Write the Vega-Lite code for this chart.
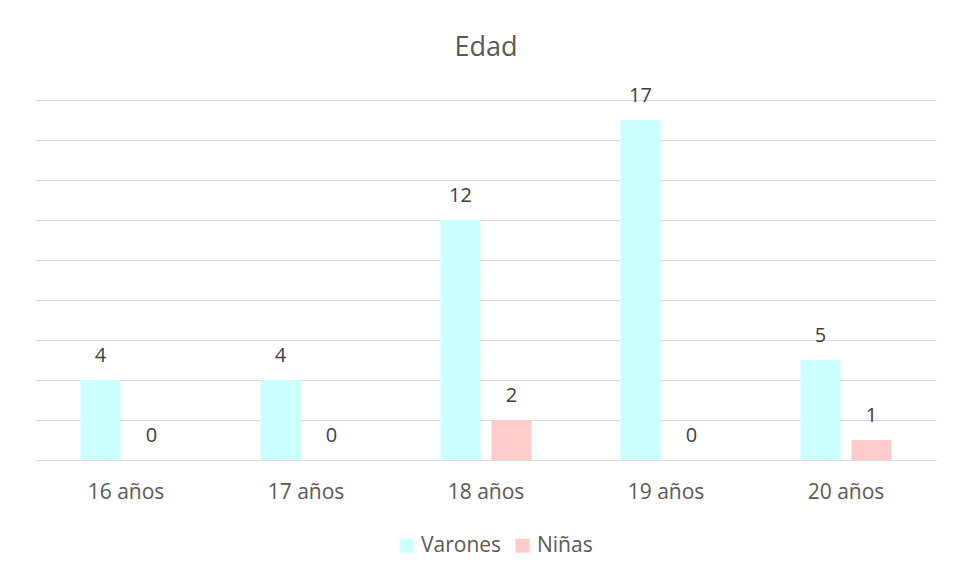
{
  "$schema": "https://vega.github.io/schema/vega-lite/v6.json",
  "autosize": "none",
  "width": 900,
  "height": 360,
  "padding": {"left": 36, "top": 100, "right": 21, "bottom": 119},
  "background": "white",
  "title": {"text": "Edad", "fontSize": 27, "font": "Open Sans", "fontWeight": "normal", "color": "#595959", "offset": 24, "anchor": "middle"},
  "data": {"values": [
    {"edad": "16 años", "grupo": "Varones", "n": 4},
    {"edad": "16 años", "grupo": "Niñas", "n": 0},
    {"edad": "17 años", "grupo": "Varones", "n": 4},
    {"edad": "17 años", "grupo": "Niñas", "n": 0},
    {"edad": "18 años", "grupo": "Varones", "n": 12},
    {"edad": "18 años", "grupo": "Niñas", "n": 2},
    {"edad": "19 años", "grupo": "Varones", "n": 17},
    {"edad": "19 años", "grupo": "Niñas", "n": 0},
    {"edad": "20 años", "grupo": "Varones", "n": 5},
    {"edad": "20 años", "grupo": "Niñas", "n": 1}
  ]},
  "encoding": {
    "x": {"field": "edad", "type": "nominal", "sort": null,
      "scale": {"paddingInner": 0.4944, "paddingOuter": 0.2472},
      "axis": {"title": null, "labelAngle": 0, "labelFont": "Open Sans", "labelFontSize": 21, "labelColor": "#595959", "ticks": false, "domain": true, "domainColor": "#D9D9D9", "labelBaseline": "alphabetic", "labelPadding": 38}},
    "xOffset": {"field": "grupo", "type": "nominal", "sort": ["Varones", "Niñas"], "scale": {"paddingInner": 0.2157, "paddingOuter": 0}},
    "y": {"field": "n", "type": "quantitative", "scale": {"domain": [0, 18], "nice": false},
      "axis": {"title": null, "labels": false, "ticks": false, "domain": false, "grid": true, "gridColor": "#D9D9D9", "gridWidth": 1, "values": [0,2,4,6,8,10,12,14,16,18]}}
  },
  "layer": [
    {"mark": {"type": "bar"},
     "encoding": {"color": {"field": "grupo", "type": "nominal", "sort": ["Varones", "Niñas"],
       "scale": {"domain": ["Varones", "Niñas"], "range": ["#CCFFFF", "#FFCCCC"]},
       "legend": {"title": null, "orient": "none", "legendX": 360, "legendY": 435, "direction": "horizontal", "symbolType": "square", "symbolSize": 196, "symbolStrokeWidth": 0, "labelFont": "Open Sans", "labelFontSize": 21, "labelColor": "#595959", "columnPadding": 10, "labelOffset": 4}}}},
    {"mark": {"type": "text", "baseline": "alphabetic", "dy": -18, "font": "Open Sans", "fontSize": 20, "color": "#404040"},
     "encoding": {"text": {"field": "n", "type": "quantitative"}}}
  ],
  "config": {"view": {"stroke": null}}
}
